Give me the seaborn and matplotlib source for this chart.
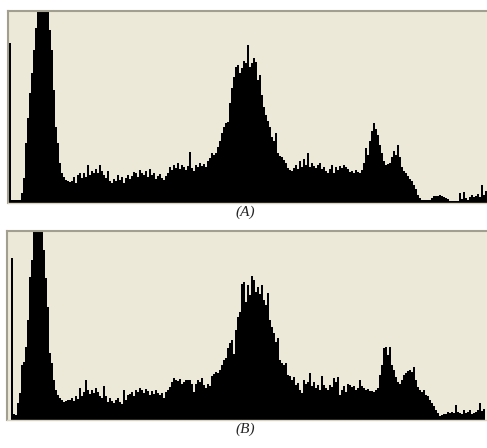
import numpy as np
import pandas as pd
import matplotlib
matplotlib.use("Agg")
import matplotlib.pyplot as plt
import seaborn as sns

# Histogram heights (pixel units above the baseline), one value per 2-px bin
hist_a = [
    160, 3, 3, 3, 3, 3, 10, 25, 60, 85, 110, 130, 153, 175, 200, 200, 200, 200, 200, 200,
    173, 153, 113, 76, 60, 40, 30, 26, 23, 22, 21, 22, 26, 20, 28, 30, 25, 30, 26, 38,
    28, 32, 30, 34, 30, 38, 32, 28, 25, 32, 22, 20, 24, 22, 28, 23, 26, 20, 25, 28,
    24, 27, 31, 30, 26, 33, 30, 28, 32, 26, 34, 28, 30, 24, 27, 29,
    25, 23, 27, 30, 36, 33, 38, 35, 40, 34, 38, 36, 33, 37, 51, 35, 32, 38, 36, 40,
    37, 39, 36, 42, 45, 50, 48, 50, 56, 62, 70, 76, 80, 81, 100, 115, 126, 136, 138, 130,
    135, 142, 140, 158, 136, 140, 145, 141, 123, 128, 108, 96, 88, 82, 76, 66, 62, 70, 50, 47,
    46, 43, 40, 35, 33, 32, 35, 38, 34, 42, 36, 44, 38, 50, 36, 40, 37, 35, 38, 40,
    34, 36, 32, 30, 34, 38, 30, 36, 33, 37, 35, 38, 36, 34, 31, 32, 30, 33, 31, 30,
    33, 40, 55, 48, 62, 72, 80, 74, 68, 58, 50, 42, 38, 39, 40, 46, 52, 48, 58, 46,
    36, 32, 30, 27, 24, 22, 18, 14, 8, 5, 3, 3, 3, 3, 3, 5, 7, 7, 7, 8,
    7, 6, 5, 4, 2, 2, 2, 2, 2, 10, 4, 11, 5, 3, 6, 8, 6, 7, 9, 6,
    18, 8, 12,
]

hist_b = [
    0, 162, 6, 5, 17, 27, 55, 58, 73, 100, 143, 160, 200, 200, 200, 200, 200, 170, 142, 113,
    67, 57, 40, 30, 25, 22, 20, 18, 19, 20, 20, 22, 19, 24, 21, 32, 24, 28, 40, 30,
    26, 30, 27, 32, 28, 24, 22, 34, 24, 18, 22, 19, 17, 20, 22, 18, 16, 30, 20, 25,
    26, 28, 24, 30, 28, 32, 30, 27, 31, 29, 25, 29, 26, 30, 27,
    25, 27, 22, 28, 30, 33, 38, 42, 40, 39, 41, 36, 38, 40, 40, 40, 36, 28, 36, 40,
    38, 42, 35, 32, 36, 34, 44, 46, 48, 47, 50, 55, 60, 62, 72, 77, 80, 66, 90, 103,
    108, 136, 138, 118, 135, 125, 144, 140, 128, 133, 126, 135, 120, 115, 127, 100, 93, 87, 78, 82,
    60, 57, 55, 57, 45, 44, 40, 43, 35, 37, 30, 27, 40, 36, 38, 47, 34, 38, 32, 35,
    30, 44, 35, 32, 30, 35, 33, 42, 38, 43, 25, 30, 34, 28, 36, 35, 33, 34, 30, 32,
    40, 34, 32, 30, 31, 29, 29, 28, 30, 32, 45, 55, 72, 73, 65, 73, 55, 50, 43, 38,
    36, 40, 45, 47, 49, 50, 48, 53, 40, 33, 30, 28, 30, 25, 24, 20, 17, 14, 10, 7,
    4, 5, 6, 6, 8, 7, 8, 7, 15, 8, 7, 6, 10, 7, 8, 10, 6, 7, 8, 10,
    17, 9, 11,
]

labels = ["(A)", "(B)"]

sns.set_style("white")
plt.rcParams['font.family'] = ['Liberation Serif', 'DejaVu Serif']

W, H = 487, 448
fig = plt.figure(figsize=(W / 100, H / 100), dpi=100)
fig.patch.set_facecolor("white")

bg = "#ece9d8"
edge_dark = "#a39f90"
edge_light = "#d8d4c4"

# panel geometry in pixels: (left, top, right, bottom, xmin, ymax)
panels = [
    (hist_a, (8, 11, 487, 203), -1.0, 192),
    (hist_b, (7, 231, 487, 420), -1.5, 189),
]

for (vals, (l, t, r, b), xmin, ymax), lab in zip(panels, labels):
    ax = fig.add_axes([l / W, 1 - b / H, (r - l) / W, (b - t) / H])
    ax.set_facecolor(bg)
    df = pd.DataFrame({"bin": np.arange(len(vals)), "count": vals})
    sns.histplot(data=df, x="bin", weights="count", discrete=True,
                 element="step", fill=True, color="black", alpha=1,
                 linewidth=0, ax=ax)
    ax.set_xlim(xmin, xmin + (r - l) / 2)
    ax.set_ylim(0, ymax)
    ax.set_xticks([])
    ax.set_yticks([])
    ax.set_xlabel("")
    ax.set_ylabel("")
    for s in ["top", "left"]:
        ax.spines[s].set_visible(True)
        ax.spines[s].set_color(edge_dark)
        ax.spines[s].set_linewidth(1.5)
    ax.spines["bottom"].set_visible(True)
    ax.spines["bottom"].set_color(edge_light)
    ax.spines["bottom"].set_linewidth(1.0)
    ax.spines["right"].set_visible(False)
    fig.text(245 / W, 1 - (b + 9) / H, lab, ha="center", va="center",
             fontsize=11, style="italic")

fig.savefig("out.png", dpi=100, facecolor="white")
